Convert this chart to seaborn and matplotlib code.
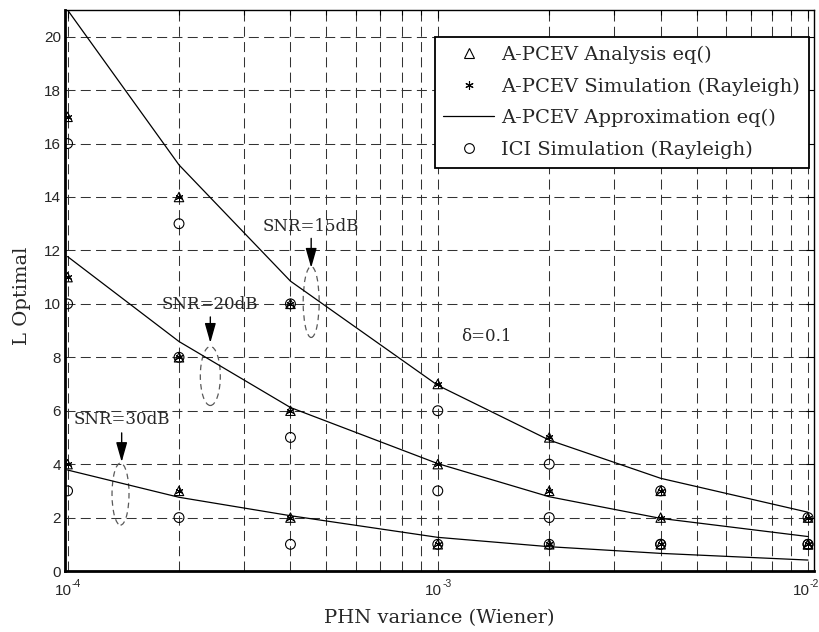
import numpy as np
import pandas as pd
import matplotlib
matplotlib.use("Agg")
import matplotlib.pyplot as plt
import matplotlib.transforms as mtransforms
from matplotlib.patches import Ellipse
from matplotlib.lines import Line2D
import seaborn as sns

# ---- data -------------------------------------------------------------
phn_variance = [1e-4, 2e-4, 4e-4, 1e-3, 2e-3, 4e-3, 1e-2]
snr_levels = ["15dB", "20dB", "30dB"]

analysis_15 = [17, 14, 10, 7, 5, 3, 2]
analysis_20 = [11, 8, 6, 4, 3, 2, 1]
analysis_30 = [4, 3, 2, 1, 1, 1, 1]

simulation_15 = [17, 14, 10, 7, 5, 3, 2]
simulation_20 = [11, 8, 6, 4, 3, 2, 1]
simulation_30 = [4, 3, 2, 1, 1, 1, 1]

approx_15 = [21.0, 15.2, 10.85, 6.95, 4.9, 3.47, 2.2]
approx_20 = [11.77, 8.59, 6.12, 4.02, 2.78, 1.97, 1.29]
approx_30 = [3.78, 2.76, 2.07, 1.26, 0.91, 0.66, 0.41]

ici_15 = [16, 13, 10, 6, 4, 3, 2]
ici_20 = [10, 8, 5, 3, 2, 1, 1]
ici_30 = [3, 2, 1, 1, 1, 1, 1]

y_ticks = [0, 2, 4, 6, 8, 10, 12, 14, 16, 18, 20]
x_ticks = [1e-4, 1e-3, 1e-2]
x_tick_exponents = ["-4", "-3", "-2"]

legend_labels = ["A-PCEV Analysis eq()", "A-PCEV Simulation (Rayleigh)",
                 "A-PCEV Approximation eq()", "ICI Simulation (Rayleigh)"]


def long_table(v15, v20, v30):
    frames = []
    for snr, vals in zip(snr_levels, (v15, v20, v30)):
        frames.append(pd.DataFrame({"var": phn_variance, "L": vals, "snr": snr}))
    return pd.concat(frames, ignore_index=True)


df_analysis = long_table(analysis_15, analysis_20, analysis_30)
df_sim = long_table(simulation_15, simulation_20, simulation_30)
df_approx = long_table(approx_15, approx_20, approx_30)
df_ici = long_table(ici_15, ici_20, ici_30)

# ---- style ------------------------------------------------------------
sns.set_style("white")
plt.rcParams["font.family"] = ["DejaVu Serif"]
plt.rcParams["lines.scale_dashes"] = False

fig = plt.figure(figsize=(8.2, 6.32), dpi=100)
ax = fig.add_axes([0.0796, 0.0965, 0.9921 - 0.0796, 0.9842 - 0.0965])
ax.set_xscale("log")

# approximation curves
sns.lineplot(data=df_approx, x="var", y="L", units="snr", estimator=None,
             color="k", linewidth=0.9, ax=ax, legend=False, sort=False)
# markers
sns.scatterplot(data=df_ici, x="var", y="L", marker="o", s=50,
                facecolor="none", edgecolor="k", linewidth=0.8, ax=ax,
                legend=False, zorder=3)
sns.scatterplot(data=df_analysis, x="var", y="L", marker="^", s=46,
                facecolor="none", edgecolor="k", linewidth=0.8, ax=ax,
                legend=False, zorder=4)
sns.scatterplot(data=df_sim, x="var", y="L", marker=(6, 2, 0), s=26,
                color="k", edgecolor="k", linewidth=0.7, ax=ax,
                legend=False, zorder=5)

# ---- axes -------------------------------------------------------------
ax.set_xlim(10 ** -4.0062, 10 ** -1.9851)
ax.set_ylim(0, 21)
ax.set_yticks(y_ticks)
ax.set_yticklabels([str(t) for t in y_ticks], family="Liberation Sans",
                   fontsize=11)
ax.set_xticks(x_ticks)
ax.set_xticklabels(["" for _ in x_ticks])
ax.tick_params(which="both", direction="in", top=True, right=True,
               color="k")
ax.tick_params(which="major", length=6, width=0.8)
ax.tick_params(which="minor", length=3.5, width=0.8)
ax.tick_params(axis="y", pad=3)

# decade labels written as base with a raised exponent
label_shift = [3.2, 3.2, 1.4]
for t, e, dx in zip(x_ticks, x_tick_exponents, label_shift):
    ax.annotate("10", xy=(t, 0), xycoords=("data", "axes fraction"),
                xytext=(dx, -9.5), textcoords="offset points",
                ha="right", va="top", family="Liberation Sans", fontsize=11)
    ax.annotate(e, xy=(t, 0), xycoords=("data", "axes fraction"),
                xytext=(dx, -5.5), textcoords="offset points",
                ha="left", va="top", family="Liberation Sans", fontsize=7.5)

dash = (0, (7.2, 3.8))
ax.set_axisbelow(True)
ax.grid(True, which="major", axis="both", color="0.2", linewidth=0.75,
        linestyle=dash)
ax.grid(True, which="minor", axis="x", color="0.2", linewidth=0.75,
        linestyle=dash)

for side in ("left", "bottom"):
    ax.spines[side].set_linewidth(2.0)
for side in ("top", "right"):
    ax.spines[side].set_linewidth(1.0)
for sp in ax.spines.values():
    sp.set_color("k")

ax.set_xlabel("PHN variance (Wiener)", fontsize=14)
ax.xaxis.set_label_coords(0.5, -0.0677)
ax.set_ylabel("L Optimal", fontsize=14)
ax.yaxis.set_label_coords(-0.046, 0.49)

# ---- annotations --------------------------------------------------------
arrow_kw = dict(arrowstyle="-|>,head_length=0.6,head_width=0.17",
                color="k", lw=1.0, mutation_scale=20, shrinkA=0, shrinkB=0)


def snr_mark(text, tx, ty, ay0, ay1, ex, ey, ew, eh):
    ax.text(tx, ty, text, fontsize=12, ha="center", va="center")
    ax.annotate("", xy=(tx, ay1), xytext=(tx, ay0), arrowprops=arrow_kw)
    trans = fig.dpi_scale_trans + mtransforms.ScaledTranslation(ex, ey, ax.transData)
    ax.add_patch(Ellipse((0, 0), ew / 100, eh / 100, transform=trans,
                         fill=False, edgecolor="0.35", linewidth=0.9,
                         linestyle=(0, (4, 3))))


snr_mark("SNR=15dB", 4.55e-4, 12.88, 12.45, 11.35, 4.55e-4, 10.07, 16, 71)
snr_mark("SNR=20dB", 2.43e-4, 9.96, 9.51, 8.54, 2.43e-4, 7.30, 20, 59)
snr_mark("SNR=30dB", 1.40e-4, 5.66, 5.17, 4.08, 1.39e-4, 2.88, 17, 62)
ax.text(1.352e-3, 8.76, "\u03b4=0.1", fontsize=12, ha="center", va="center")

# ---- legend -------------------------------------------------------------
handles = [
    Line2D([], [], linestyle="none", marker="^", markersize=6.5,
           markerfacecolor="none", markeredgecolor="k", markeredgewidth=0.8),
    Line2D([], [], linestyle="none", marker=(6, 2, 0), markersize=6,
           color="k", markeredgewidth=0.8),
    Line2D([], [], color="k", linewidth=0.9),
    Line2D([], [], linestyle="none", marker="o", markersize=7,
           markerfacecolor="none", markeredgecolor="k", markeredgewidth=0.8),
]
leg = ax.legend(handles, legend_labels, loc="upper right",
                bbox_to_anchor=(0.9933, 0.952), borderaxespad=0,
                fontsize=14, frameon=True, fancybox=False, shadow=False,
                framealpha=1, edgecolor="k", handlelength=2.6,
                handletextpad=0.36, labelspacing=0.69, borderpad=0.45,
                numpoints=1)
leg.get_frame().set_linewidth(1.3)

fig.savefig("out.png", dpi=100)
